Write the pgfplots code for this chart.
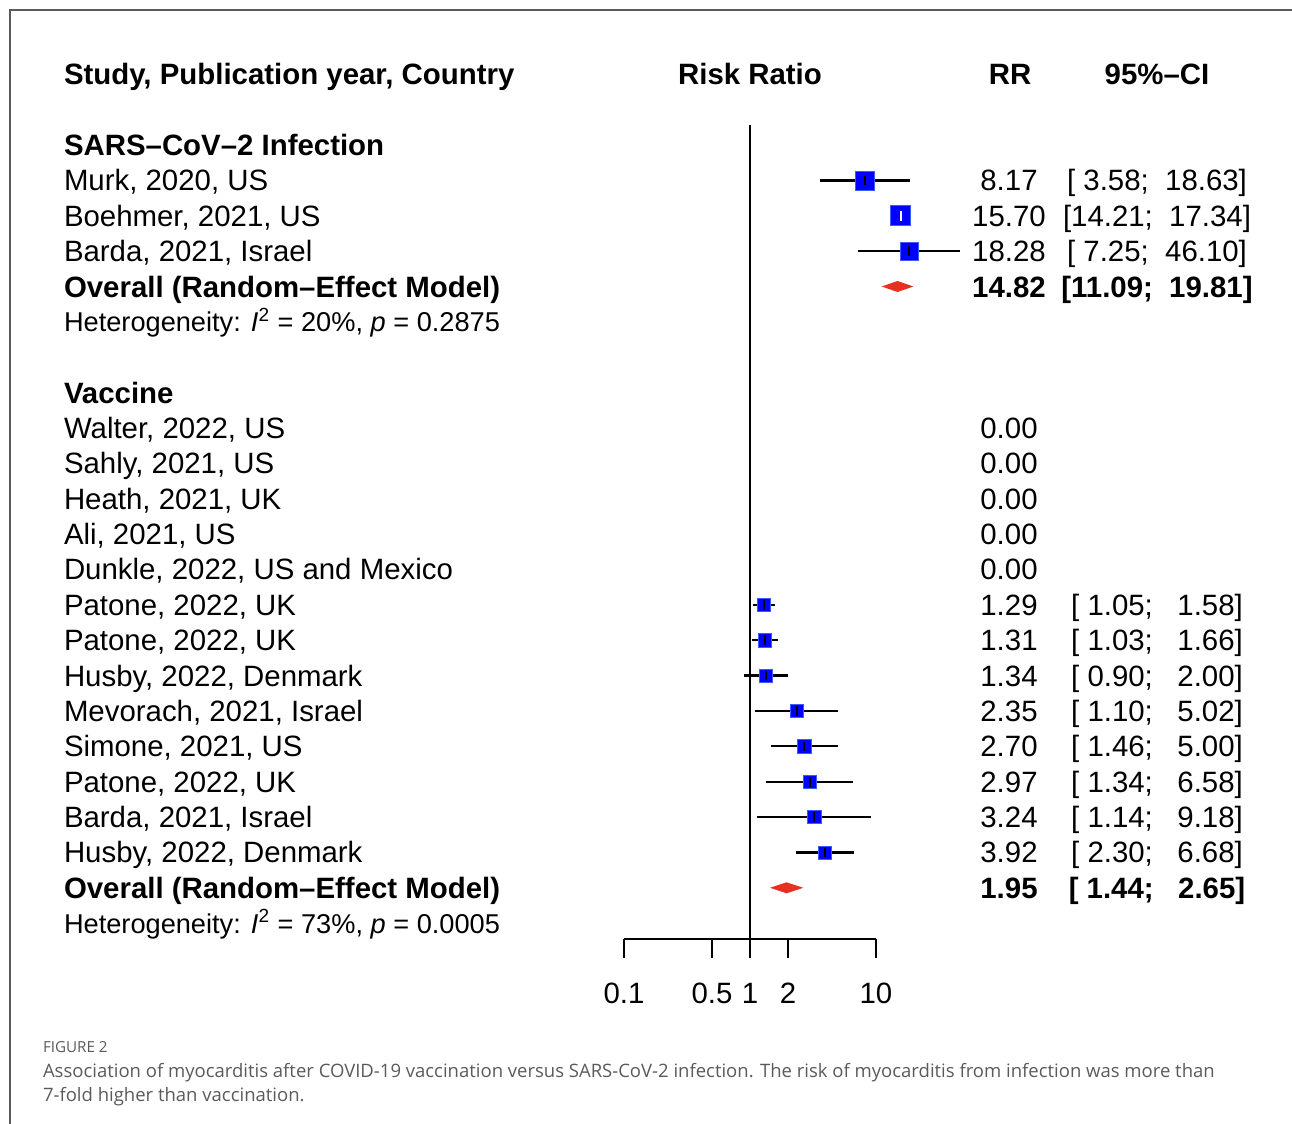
\documentclass[border=0pt]{standalone}
\usepackage{pgfplots}
\pgfplotsset{compat=1.18}
\usepackage{fontspec}
\setmainfont{Liberation Sans}
\newfontfamily\capfont{Open Sans}
\definecolor{sqblue}{RGB}{0,0,255}
\definecolor{sqedge}{RGB}{60,90,255}
\definecolor{dred}{RGB}{232,48,32}
\definecolor{framegray}{RGB}{90,90,90}
\definecolor{capgray}{RGB}{90,90,90}
\begin{document}
\begin{tikzpicture}
\begin{axis}[
  at={(312pt,0pt)}, anchor=north west,
  scale only axis, width=126pt, height=469.5pt,
  xmode=log, xmin=0.1, xmax=10, ymin=-939, ymax=0,
  enlargelimits=false, clip=false,
  axis x line=bottom, hide y axis,
  axis line style={-, line width=1pt, black},
  xtick={0.1,0.5,1,2,10}, xticklabels={},
  xminorticks=false,
  xtick align=outside, major tick length=9.5pt,
  tick style={line width=1pt, black},
]
% reference line at RR = 1
\draw[black, line width=1.2pt] (axis cs:1,-125) -- (axis cs:1,-939);
% tick labels
\node[anchor=base, inner sep=0pt, font=\fontsize{14.7}{17}\selectfont] at (axis cs:0.1,-1003.5) {0.1};
\node[anchor=base, inner sep=0pt, font=\fontsize{14.7}{17}\selectfont] at (axis cs:0.5,-1003.5) {0.5};
\node[anchor=base, inner sep=0pt, font=\fontsize{14.7}{17}\selectfont] at (axis cs:1,-1003.5) {1};
\node[anchor=base, inner sep=0pt, font=\fontsize{14.7}{17}\selectfont] at (axis cs:2,-1003.5) {2};
\node[anchor=base, inner sep=0pt, font=\fontsize{14.7}{17}\selectfont] at (axis cs:10,-1003.5) {10};

% SARS-CoV-2 infection squares
\addplot[only marks, mark=square*, mark size=4.75pt, mark options={fill=sqblue, draw=sqedge, line width=0.3pt}] coordinates {(8.17,-180.4)};
\addplot[only marks, mark=square*, mark size=5pt, mark options={fill=sqblue, draw=sqedge, line width=0.3pt}] coordinates {(15.70,-215.7)};
\addplot[only marks, mark=square*, mark size=4.6pt, mark options={fill=sqblue, draw=sqedge, line width=0.3pt}] coordinates {(18.28,-251.1)};
% vaccine squares
\addplot[only marks, mark=square*, mark size=3.3pt, mark options={fill=sqblue, draw=sqedge, line width=0.3pt}] coordinates {
(1.29,-604.8) (1.31,-640.2) (1.34,-675.6) (2.35,-710.9) (2.70,-746.3) (2.97,-781.7) (3.24,-817.0) (3.92,-852.4)};

% confidence intervals
\addplot[black, line width=1.15pt] coordinates {(3.58,-180.4) (18.63,-180.4)};
\addplot[white, line width=1.15pt] coordinates {(14.21,-215.7) (17.34,-215.7)};
\addplot[black, line width=1.15pt] coordinates {(7.25,-251.1) (46.10,-251.1)};
\addplot[black, line width=1.15pt] coordinates {(1.05,-604.8) (1.58,-604.8)};
\addplot[black, line width=1.15pt] coordinates {(1.03,-640.2) (1.66,-640.2)};
\addplot[black, line width=1.15pt] coordinates {(0.90,-675.6) (2.00,-675.6)};
\addplot[black, line width=1.15pt] coordinates {(1.10,-710.9) (5.02,-710.9)};
\addplot[black, line width=1.15pt] coordinates {(1.46,-746.3) (5.00,-746.3)};
\addplot[black, line width=1.15pt] coordinates {(1.34,-781.7) (6.58,-781.7)};
\addplot[black, line width=1.15pt] coordinates {(1.14,-817.0) (9.18,-817.0)};
\addplot[black, line width=1.15pt] coordinates {(2.30,-852.4) (6.68,-852.4)};

% point estimate ticks
\addplot[only marks, mark=|, mark size=2.4pt, mark options={line width=1pt, black}] coordinates {
(8.17,-180.4) (18.28,-251.1)
(1.29,-604.8) (1.31,-640.2) (1.34,-675.6) (2.35,-710.9) (2.70,-746.3) (2.97,-781.7) (3.24,-817.0) (3.92,-852.4)};
\addplot[only marks, mark=|, mark size=2.4pt, mark options={line width=1pt, white}] coordinates {(15.70,-215.7)};

% pooled estimates (diamonds)
\addplot[fill=dred, draw=none] coordinates {(11.09,-286.5) (14.82,-281) (19.81,-286.5) (14.82,-292) (11.09,-286.5)};
\addplot[fill=dred, draw=none] coordinates {(1.44,-887.8) (1.95,-882.3) (2.65,-887.8) (1.95,-893.3) (1.44,-887.8)};
\end{axis}

\begin{scope}[x=0.5pt,y=-0.5pt,
  every node/.style={inner sep=0pt, outer sep=0pt, font=\fontsize{14.7}{17}\selectfont},
  lt/.style={anchor=base west}, ct/.style={anchor=base},
  het/.style={anchor=base west, font=\fontsize{13.6}{16}\selectfont}]
\path[use as bounding box] (0,0) rectangle (1292,1124);
\draw[framegray, line width=0.6pt] (10,1124) -- (10,10) -- (1292,10);
% headers
\node[lt] at (64,84.8) {\bfseries Study, Publication year, Country};
\node[ct] at (750,84.8) {\bfseries Risk Ratio};
\node[ct] at (1010,84.8) {\bfseries RR};
\node[ct] at (1157,84.8) {\bfseries 95\%–CI};

% left column
\node[lt] at (64,155.5) {\bfseries SARS–CoV–2 Infection};
\node[lt] at (64,190.9) {Murk, 2020, US};
\node[lt] at (64,226.2) {Boehmer, 2021, US};
\node[lt] at (64,261.6) {Barda, 2021, Israel};
\node[lt] at (64,297.0) {\bfseries Overall (Random–Effect Model)};
\node[het] at (64,331.8) {Heterogeneity: \textit{I}\textsuperscript{2} = 20\%, \textit{p} = 0.2875};
\node[lt] at (64,403.1) {\bfseries Vaccine};
\node[lt] at (64,438.5) {Walter, 2022, US};
\node[lt] at (64,473.8) {Sahly, 2021, US};
\node[lt] at (64,509.2) {Heath, 2021, UK};
\node[lt] at (64,544.6) {Ali, 2021, US};
\node[lt] at (64,579.9) {Dunkle, 2022, US and Mexico};
\node[lt] at (64,615.3) {Patone, 2022, UK};
\node[lt] at (64,650.7) {Patone, 2022, UK};
\node[lt] at (64,686.1) {Husby, 2022, Denmark};
\node[lt] at (64,721.4) {Mevorach, 2021, Israel};
\node[lt] at (64,756.8) {Simone, 2021, US};
\node[lt] at (64,792.2) {Patone, 2022, UK};
\node[lt] at (64,827.5) {Barda, 2021, Israel};
\node[lt] at (64,862.9) {Husby, 2022, Denmark};
\node[lt] at (64,898.3) {\bfseries Overall (Random–Effect Model)};
\node[het] at (64,933.0) {Heterogeneity: \textit{I}\textsuperscript{2} = 73\%, \textit{p} = 0.0005};

% RR column
\node[ct] at (1009,190.9) {8.17};
\node[ct] at (1009,226.2) {15.70};
\node[ct] at (1009,261.6) {18.28};
\node[ct] at (1009,297.0) {\bfseries 14.82};
\node[ct] at (1009,438.5) {0.00};
\node[ct] at (1009,473.8) {0.00};
\node[ct] at (1009,509.2) {0.00};
\node[ct] at (1009,544.6) {0.00};
\node[ct] at (1009,579.9) {0.00};
\node[ct] at (1009,615.3) {1.29};
\node[ct] at (1009,650.7) {1.31};
\node[ct] at (1009,686.1) {1.34};
\node[ct] at (1009,721.4) {2.35};
\node[ct] at (1009,756.8) {2.70};
\node[ct] at (1009,792.2) {2.97};
\node[ct] at (1009,827.5) {3.24};
\node[ct] at (1009,862.9) {3.92};
\node[ct] at (1009,898.3) {\bfseries 1.95};

% CI column
\node[ct] at (1157,190.9) {[\ 3.58;\ \ 18.63]};
\node[ct] at (1157,226.2) {[14.21;\ \ 17.34]};
\node[ct] at (1157,261.6) {[\ 7.25;\ \ 46.10]};
\node[ct] at (1157,297.0) {\bfseries [11.09;\ \ 19.81]};
\node[ct] at (1157,615.3) {[\ 1.05;\ \ \ 1.58]};
\node[ct] at (1157,650.7) {[\ 1.03;\ \ \ 1.66]};
\node[ct] at (1157,686.1) {[\ 0.90;\ \ \ 2.00]};
\node[ct] at (1157,721.4) {[\ 1.10;\ \ \ 5.02]};
\node[ct] at (1157,756.8) {[\ 1.46;\ \ \ 5.00]};
\node[ct] at (1157,792.2) {[\ 1.34;\ \ \ 6.58]};
\node[ct] at (1157,827.5) {[\ 1.14;\ \ \ 9.18]};
\node[ct] at (1157,862.9) {[\ 2.30;\ \ \ 6.68]};
\node[ct] at (1157,898.3) {\bfseries [\ 1.44;\ \ \ 2.65]};

% caption
\node[lt, font=\capfont\fontsize{7.6}{8}\selectfont, text=capgray] at (43,1052) {FIGURE 2};
\node[lt, font=\capfont\fontsize{9.25}{12}\selectfont, text=capgray] at (43,1077) {Association of myocarditis after COVID-19 vaccination versus SARS-CoV-2 infection. The risk of myocarditis from infection was more than};
\node[lt, font=\capfont\fontsize{9.25}{12}\selectfont, text=capgray] at (43,1101) {7-fold higher than vaccination.};
\end{scope}
\end{tikzpicture}
\end{document}
